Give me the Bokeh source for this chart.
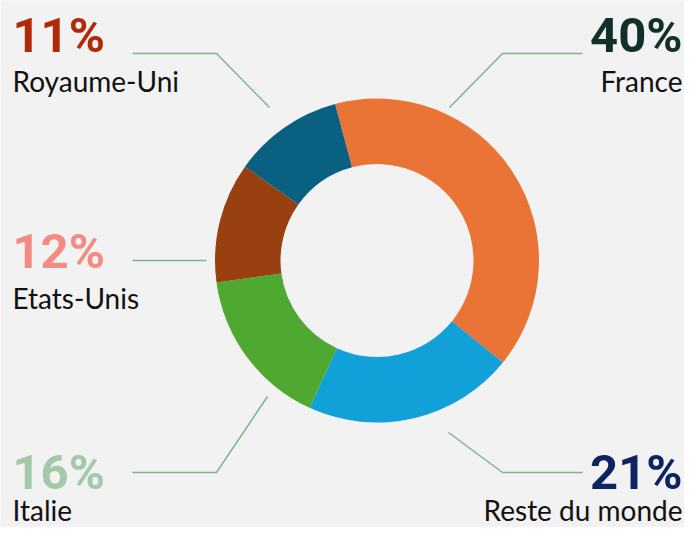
import math
from bokeh.plotting import figure
from bokeh.models import Range1d
from bokeh.core.properties import value
from bokeh.embed import file_html
from bokeh.resources import INLINE

# ---- data ----
categories = ["France", "Reste du monde", "Italie", "Etats-Unis", "Royaume-Uni"]
shares = [40, 21, 16, 12, 11]
slice_colors = ["#E97435", "#11A0D7", "#4FA82F", "#98400F", "#0A6080"]
pct_colors = ["#12302A", "#0C2461", "#A3C9A8", "#F28B82", "#B02A0A"]

# ---- layout (pixel coordinates from top-left) ----
W, H = 684, 527
BG = "#f2f2f2"
LINE_COLOR = "#7DB58A"
PCT_SIZE = 49
NAME_SIZE = 28
BASE_K = 0.35  # baseline compensation (fraction of font size)


def fx(x):
    return x


def fy(y):
    return H - y


cx, cy = 376.5, 260.0
R_OUT, R_IN = 162, 96.5
START_DEG = -15.0  # clockwise from top

# label layout per category: (align, x, pct baseline, name baseline, leader points)
layout = {
    "France": ("right", 682, 52, 90, [(582, 53), (502, 53), (449, 107)]),
    "Reste du monde": ("right", 682, 489, 519, [(582, 472), (502, 472), (448, 432)]),
    "Italie": ("left", 12, 489, 519, [(132, 472), (216, 472), (267, 396)]),
    "Etats-Unis": ("left", 12, 268, 307, [(132, 260), (206, 260)]),
    "Royaume-Uni": ("left", 12, 52, 90, [(132, 53), (216, 53), (269, 107)]),
}

p = figure(width=W, height=H, output_backend="svg", toolbar_location=None,
           x_range=Range1d(0, W), y_range=Range1d(0, H),
           x_axis_type=None, y_axis_type=None, min_border=0,
           background_fill_color=BG, border_fill_color=BG,
           outline_line_color=None)
p.grid.visible = False

total = float(sum(shares))
starts, ends = [], []
acc = START_DEG
for s in shares:
    th0 = acc
    th1 = acc + 360.0 * s / total
    starts.append(math.radians(90 - th0))
    ends.append(math.radians(90 - th1))
    acc = th1

p.annular_wedge(x=[fx(cx)] * len(shares), y=[fy(cy)] * len(shares),
                inner_radius=R_IN, outer_radius=R_OUT,
                inner_radius_units="screen", outer_radius_units="screen",
                start_angle=starts, end_angle=ends, direction="clock",
                fill_color=slice_colors, line_color=None)

# leader lines
xs, ys = [], []
for c in categories:
    pts = layout[c][4]
    xs.append([fx(a) for a, b in pts])
    ys.append([fy(b) for a, b in pts])
p.multi_line(xs=xs, ys=ys, line_color=LINE_COLOR, line_width=1.5)

# labels
for side in ("left", "right"):
    cats = [c for c in categories if layout[c][0] == side]
    idx = [categories.index(c) for c in cats]
    p.text(x=[fx(layout[c][1]) for c in cats],
           y=[fy(layout[c][2]) + BASE_K * PCT_SIZE for c in cats],
           text=[f"{shares[i]}%" for i in idx],
           text_color=[pct_colors[i] for i in idx],
           text_align=side, text_baseline="alphabetic",
           text_font=value("Roboto"), text_font_style="bold",
           text_font_size=f"{PCT_SIZE}px")
    p.text(x=[fx(layout[c][1]) for c in cats],
           y=[fy(layout[c][3]) + BASE_K * NAME_SIZE for c in cats],
           text=cats, text_color="#111111",
           text_align=side, text_baseline="alphabetic",
           text_font=value("Lato"), text_font_size=f"{NAME_SIZE}px")

open("out.html", "w").write(file_html(p, INLINE))
